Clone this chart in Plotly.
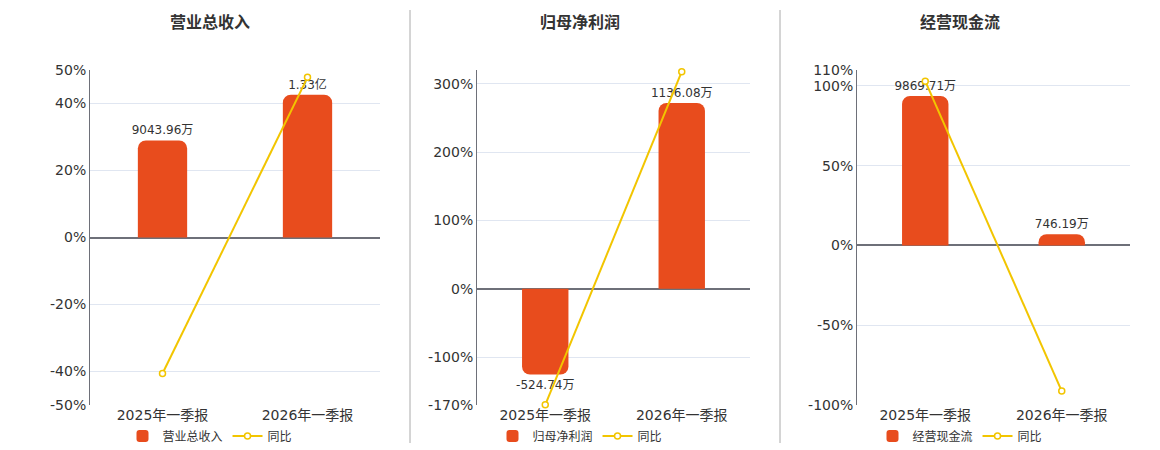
import plotly.graph_objects as go

categories = ["2025年一季报", "2026年一季报"]

titles = ["营业总收入", "归母净利润", "经营现金流"]

# bar values in 万
revenue = [9043.96, 13300.0]
net_profit = [-524.74, 1136.08]
cash_flow = [9869.71, 746.19]

revenue_text = ["9043.96万", "1.33亿"]
net_profit_text = ["-524.74万", "1136.08万"]
cash_flow_text = ["9869.71万", "746.19万"]

# year-on-year growth, %
revenue_yoy = [-40.6, 47.8]
net_profit_yoy = [-169.8, 317.6]
cash_flow_yoy = [103.0, -91.3]

pct_ticks = [
    [-50, -40, -20, 0, 20, 40, 50],
    [-170, -100, 0, 100, 200, 300, 320],
    [-100, -50, 0, 50, 100, 110],
]
pct_labels = [
    ["-50%", "-40%", "-20%", "0%", "20%", "40%", "50%"],
    ["-170%", "-100%", "0%", "100%", "200%", "300%", ""],
    ["-100%", "-50%", "0%", "50%", "100%", "110%"],
]
pct_ranges = [[-50, 50], [-170, 320], [-100, 110]]
bar_tops = [15600, 1338, 11580]

panels = [
    (revenue, revenue_text, revenue_yoy),
    (net_profit, net_profit_text, net_profit_yoy),
    (cash_flow, cash_flow_text, cash_flow_yoy),
]

# the page body adds an 8px margin, so the figure is a bit smaller
W, H = 1152, 442
x_domains = [(82, 372), (469, 742), (849, 1122)]
y_domain = [1 - 397 / H, 1 - 62 / H]
title_x = [202, 572, 952]
BAR = "#e84c1d"
LINE = "#f2c500"
FONT = "DejaVu Sans, Noto Sans CJK SC, sans-serif"

fig = go.Figure()
layout = {}
for i, (vals, texts, yoy) in enumerate(panels):
    n = i + 1
    xs = "" if n == 1 else str(n)
    yb = 2 * n - 1
    yp = 2 * n
    ybs = "" if yb == 1 else str(yb)
    leg = "legend" if n == 1 else f"legend{n}"

    fig.add_trace(go.Bar(
        x=categories, y=vals, name=titles[i], text=texts,
        textposition="outside", cliponaxis=False, constraintext="none",
        textfont=dict(size=12, color="#333333"),
        marker=dict(color=BAR, line=dict(width=0)), width=0.34,
        xaxis=f"x{xs}", yaxis=f"y{ybs}", legend=leg, hoverinfo="skip",
    ))
    fig.add_trace(go.Scatter(
        x=categories, y=yoy, name="同比", mode="lines+markers",
        line=dict(color=LINE, width=2),
        marker=dict(symbol="circle", size=6, color="white",
                    line=dict(color=LINE, width=1.5)),
        cliponaxis=False,
        xaxis=f"x{xs}", yaxis=f"y{yp}", legend=leg, hoverinfo="skip",
    ))

    lo, hi = pct_ranges[i]
    top = bar_tops[i]
    d0, d1 = x_domains[i]
    layout[f"xaxis{xs}"] = dict(
        domain=[d0 / W, d1 / W], anchor=f"y{ybs}", type="category",
        range=[-0.5, 1.5], showline=False, showgrid=False, ticks="",
        tickfont=dict(size=14, color="#333333"), automargin=False,
    )
    layout[f"yaxis{ybs}"] = dict(
        domain=y_domain, anchor=f"x{xs}",
        range=[top * lo / hi, top], showgrid=False, zeroline=False,
        showticklabels=False, showline=False, automargin=False,
    )
    layout[f"yaxis{yp}"] = dict(
        overlaying=f"y{ybs}", anchor=f"x{xs}", side="left",
        range=[lo, hi], tickmode="array", tickvals=pct_ticks[i],
        ticktext=pct_labels[i],
        tickfont=dict(size=14, color="#333333"), automargin=False,
        showgrid=True, gridcolor="#e0e6f1", gridwidth=1,
        zeroline=True, zerolinecolor="#6e7079", zerolinewidth=2,
        showline=True, linecolor="#6e7079", linewidth=1, ticks="",
    )
    layout[leg] = dict(
        orientation="h", x=title_x[i] / W, xanchor="center",
        y=1 - 428 / H, yanchor="middle", font=dict(size=12, color="#333333"),
        bgcolor="rgba(0,0,0,0)", itemwidth=30, tracegroupgap=0,
    )

annotations = [
    dict(text=f"<b>{t}</b>", x=title_x[i] / W, y=1 - 14 / H, xref="paper",
         yref="paper", xanchor="center", yanchor="middle", showarrow=False,
         font=dict(size=16, color="#333333"))
    for i, t in enumerate(titles)
]
shapes = [
    dict(type="line", xref="paper", yref="paper", x0=sx / W, x1=sx / W,
         y0=1 - 435 / H, y1=1 - 2 / H, line=dict(color="#aaaaaa", width=1))
    for sx in (402, 772)
]

fig.update_layout(
    width=W, height=H, margin=dict(l=0, r=0, t=0, b=0, autoexpand=False),
    paper_bgcolor="white", plot_bgcolor="white",
    font=dict(family=FONT, color="#333333"),
    barcornerradius=8, showlegend=True,
    annotations=annotations, shapes=shapes, **layout,
)
fig.write_html("out.html")
